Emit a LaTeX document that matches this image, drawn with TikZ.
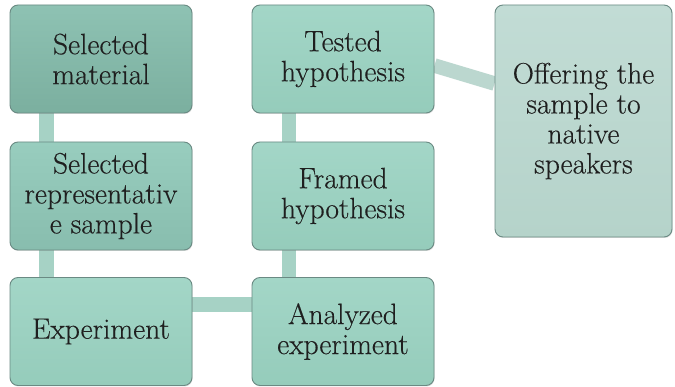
\documentclass[tikz,border=0pt]{standalone}
\usepackage{fontspec}
\setmainfont{Latin Modern Roman}[FakeBold=0.35]
\usetikzlibrary{backgrounds,shadows}
\definecolor{bordc}{HTML}{6A8A83}
\definecolor{connc}{HTML}{A6D2C5}
\definecolor{conng}{HTML}{BBD7CF}
\definecolor{aTop}{HTML}{8EC2B3}
\definecolor{aBot}{HTML}{7BAF9F}
\definecolor{bTop}{HTML}{98CDBE}
\definecolor{bBot}{HTML}{88BDAE}
\definecolor{cTop}{HTML}{A3D6C7}
\definecolor{cBot}{HTML}{95CCBB}
\definecolor{gTop}{HTML}{C2DCD5}
\definecolor{gBot}{HTML}{B5D3CA}
\tikzset{
  box/.style={draw=bordc, line width=0.9pt, rounded corners=8pt,
    minimum width=182pt, minimum height=108pt, inner sep=0pt,
    align=center, font=\rmfamily\fontsize{29.5}{30}\selectfont, text=black!88,
    drop shadow={shadow xshift=0.6pt, shadow yshift=-1pt, opacity=0.25}},
  boxA/.style={box, top color=aTop, bottom color=aBot},
  boxB/.style={box, top color=bTop, bottom color=bBot},
  boxC/.style={box, top color=cTop, bottom color=cBot},
  boxG/.style={box, top color=gTop, bottom color=gBot},
  conn/.style={line width=14.5pt, draw=connc},
}
\begin{document}
\begin{tikzpicture}[x=1pt,y=-1pt]
\useasboundingbox (0,0) rectangle (675,387);
\node[boxA] (A) at (101,59) {Selected\\material};
\node[boxB] (B) at (101,196) {Selected\\representativ\\e sample};
\node[boxC] (C) at (101,331.5) {Experiment};
\node[boxC] (D) at (343,331.5) {Analyzed\\experiment};
\node[boxC] (E) at (343,196) {Framed\\hypothesis};
\node[boxC] (F) at (343,59) {Tested\\hypothesis};
\node[boxG, minimum width=177pt, minimum height=232pt] (G) at (583.5,121) {Offering the\\sample to\\native\\speakers};
\begin{scope}[on background layer]
\fill[white] (0,0) rectangle (675,387);
\draw[conn] ([xshift=37pt]A.south west) -- ([xshift=37pt]B.north west);
\draw[conn] ([xshift=37pt]B.south west) -- ([xshift=37pt]C.north west);
\draw[conn] ([yshift=-27.5pt]C.north east) -- ([yshift=-27.5pt]D.north west);
\draw[conn] ([xshift=37.5pt]D.north west) -- ([xshift=37.5pt]E.south west);
\draw[conn] ([xshift=37.5pt]E.north west) -- ([xshift=37.5pt]F.south west);
\draw[conn, draw=conng] ([yshift=-61pt]F.north east) -- ([yshift=-79pt]G.north west);
\end{scope}
\end{tikzpicture}
\end{document}
